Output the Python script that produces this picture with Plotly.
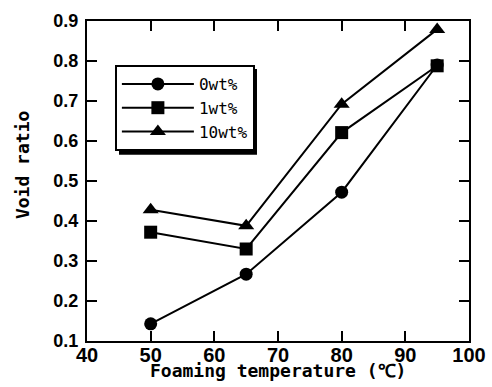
import plotly.graph_objects as go

temperature = [50, 65, 80, 95]
void_0wt = [0.143, 0.267, 0.472, 0.790]
void_1wt = [0.372, 0.330, 0.621, 0.788]
void_10wt = [0.428, 0.388, 0.692, 0.879]
series_names = ["0wt%", "1wt%", "10wt%"]
symbols = ["circle", "square", "triangle-up"]

fig = go.Figure()
for name, ys, sym in zip(series_names, [void_0wt, void_1wt, void_10wt], symbols):
    fig.add_trace(go.Scatter(
        x=temperature, y=ys, name=name, mode="lines+markers",
        line=dict(color="black", width=2),
        marker=dict(symbol=sym, size=13 if sym != "triangle-up" else 14, color="black"),
    ))

tickfont_x = dict(family="Liberation Sans", size=20, color="black", weight="bold")
tickfont_y = dict(family="Liberation Sans", size=18, color="black", weight="bold")

fig.update_xaxes(
    range=[40, 100], dtick=10, tick0=40, ticks="inside", ticklen=10, tickwidth=1.5,
    tickcolor="black", showline=True, linecolor="black", linewidth=2, mirror="ticks",
    showgrid=False, zeroline=False, tickfont=tickfont_x, automargin=False,
    ticklabelstandoff=-5,
)
fig.update_yaxes(
    range=[0.1, 0.9], dtick=0.1, tick0=0.1, ticks="inside", ticklen=10, tickwidth=1.5,
    tickcolor="black", showline=True, linecolor="black", linewidth=2, mirror="ticks",
    showgrid=False, zeroline=False, tickformat=".1f", tickfont=tickfont_y, automargin=False,
    ticklabelstandoff=3,
)

title_font = dict(family="DejaVu Sans Mono", size=18, color="black")
fig.add_annotation(text="<b>Foaming temperature (℃)</b>", xref="paper", yref="paper",
                   x=0.5, y=-0.092, yanchor="middle", xanchor="center",
                   showarrow=False, font=title_font)
fig.add_annotation(text="<b>Void ratio</b>", xref="paper", yref="paper",
                   x=-0.17, y=0.55, xanchor="center", yanchor="middle", textangle=-90,
                   showarrow=False, font=title_font)

# legend shadow (offset 4px right/down from legend box)
fig.add_shape(type="rect", xref="paper", yref="paper",
              x0=0.0838, x1=0.4450, y0=0.582, y1=0.85,
              fillcolor="black", line=dict(width=0), layer="below")

fig.update_layout(
    width=492, height=387,
    margin=dict(l=87, r=23, t=21, b=46),
    plot_bgcolor="white", paper_bgcolor="white",
    showlegend=True,
    legend=dict(x=0.073, y=0.8625, xanchor="left", yanchor="top",
                bgcolor="white", bordercolor="black", borderwidth=2,
                font=dict(family="DejaVu Sans Mono", size=16, color="black"),
                itemwidth=72, tracegroupgap=0),
)

fig.write_html("out.html", config={"displayModeBar": False},
               post_script="document.body.style.margin='0';")
